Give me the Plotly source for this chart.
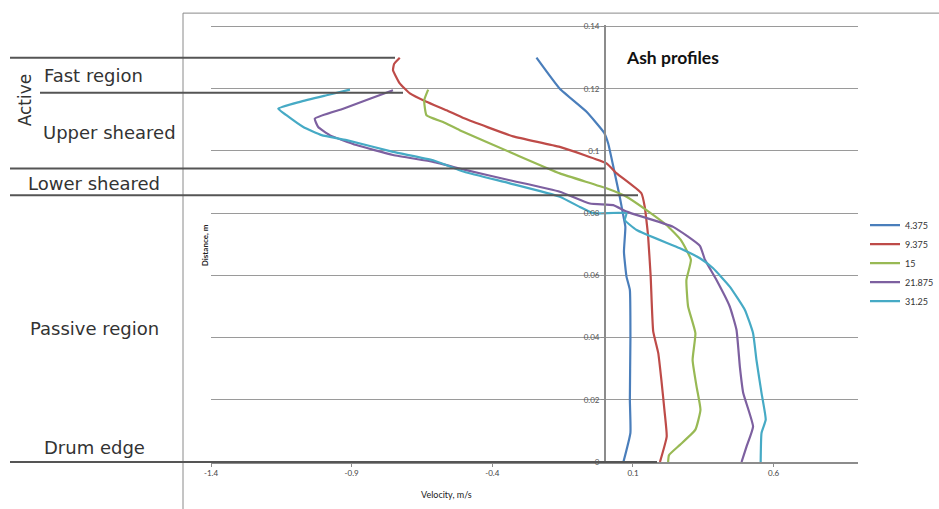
import plotly.graph_objects as go

# Velocity (m/s) and distance (m) profiles for each rotation speed
speeds = ["4.375", "9.375", "15", "21.875", "31.25"]

vel_4375 = [-0.243, -0.160, -0.065, -0.002, 0.012, 0.033, 0.053, 0.064, 0.073, 0.068,
            0.077, 0.089, 0.091, 0.089, 0.091, 0.066]
dist_4375 = [0.130, 0.120, 0.1126, 0.1058, 0.1024, 0.0938, 0.0853, 0.0800, 0.0756, 0.0676,
             0.0596, 0.0553, 0.0399, 0.0200, 0.0094, 0.0]

vel_9375 = [-0.729, -0.749, -0.753, -0.729, -0.693, -0.634, -0.563, -0.500, -0.326, -0.160,
            0.006, 0.042, 0.130, 0.142, 0.150, 0.154, 0.163, 0.172, 0.190, 0.201, 0.213,
            0.220, 0.196]
dist_9375 = [0.130, 0.128, 0.126, 0.1217, 0.1185, 0.1158, 0.1131, 0.1105, 0.1047, 0.1013,
             0.096, 0.0928, 0.0864, 0.0820, 0.0760, 0.0724, 0.0596, 0.0420, 0.035, 0.0264,
             0.0157, 0.0082, 0.0]

vel_15 = [-0.628, -0.642, -0.634, -0.575, -0.516, -0.326, -0.160, 0.006, 0.077, 0.148,
          0.219, 0.270, 0.306, 0.290, 0.296, 0.322, 0.312, 0.326, 0.340, 0.322, 0.267,
          0.228, 0.225]
dist_15 = [0.1197, 0.1163, 0.1115, 0.1093, 0.1067, 0.0992, 0.0928, 0.088, 0.0853, 0.081,
           0.0762, 0.0714, 0.065, 0.0585, 0.050, 0.0414, 0.0328, 0.0243, 0.0168, 0.0104,
           0.0055, 0.0022, 0.0]

vel_21875 = [-0.753, -0.835, -0.930, -1.031, -1.019, -0.978, -0.883, -0.753, -0.610, -0.500,
             -0.338, -0.160, -0.053, 0.030, 0.077, 0.243, 0.338, 0.356, 0.397, 0.444, 0.468,
             0.480, 0.492, 0.527, 0.504, 0.486]
dist_21875 = [0.1195, 0.1168, 0.1136, 0.1104, 0.1077, 0.1051, 0.1019, 0.0987, 0.0965, 0.0940,
              0.0906, 0.0869, 0.0831, 0.0826, 0.0805, 0.0756, 0.0695, 0.065, 0.0585, 0.050,
              0.0425, 0.0307, 0.0222, 0.0114, 0.005, 0.0]

vel_3125 = [-0.906, -0.989, -1.084, -1.161, -1.132, -1.072, -1.007, -0.918, -0.753, -0.610,
            -0.500, -0.338, -0.160, -0.089, -0.042, 0.077, 0.071, 0.113, 0.267, 0.338, 0.385,
            0.444, 0.498, 0.527, 0.539, 0.557, 0.572, 0.557, 0.554]
dist_3125 = [0.1197, 0.1179, 0.1158, 0.1136, 0.1115, 0.1077, 0.1051, 0.1035, 0.0997, 0.0970,
             0.0933, 0.0896, 0.0853, 0.0820, 0.0800, 0.0800, 0.0778, 0.0746, 0.0687, 0.0655,
             0.0623, 0.0564, 0.0489, 0.0414, 0.0328, 0.0222, 0.0136, 0.0093, 0.0]

# Region boundaries (distance, m)
region_bounds = [0.130, 0.1187, 0.0944, 0.0858, 0.0]

x_ticks = [-1.4, -0.9, -0.4, 0.1, 0.6]
y_ticks = [0, 0.02, 0.04, 0.06, 0.08, 0.1, 0.12, 0.14]
y_tick_text = ["0", "0.02", "0.04", "0.06", "0.08", "0.1", "0.12", "0.14"]

X_RANGE = [-1.4, 0.9]
# a hair of headroom so the 0.14 gridline is kept at the top edge
Y_RANGE = [0, 0.1405]

colors = ["#4A7EBB", "#BE4B48", "#98B954", "#7D60A0", "#46AAC5"]
series = [(vel_4375, dist_4375), (vel_9375, dist_9375), (vel_15, dist_15),
          (vel_21875, dist_21875), (vel_3125, dist_3125)]

W, H = 939, 509
M_L, M_R, M_T, M_B = 211, 81, 24.6, 47
PW, PH = W - M_L - M_R, H - M_T - M_B


def px_x(px):
    return (px - M_L) / PW


def px_y(py):
    return (H - M_B - py) / PH


def dist_to_paper(d):
    return (d - Y_RANGE[0]) / (Y_RANGE[1] - Y_RANGE[0])


fig = go.Figure()
for name, (v, d), c in zip(speeds, series, colors):
    fig.add_trace(go.Scatter(
        x=v, y=d, name=name, mode="lines",
        line=dict(color=c, width=2.2, shape="spline", smoothing=0.4),
    ))

shapes = []
# Chart area frame (left and top edges)
shapes.append(dict(type="line", xref="paper", yref="paper",
                   x0=px_x(183), x1=px_x(183), y0=px_y(12.7), y1=px_y(520),
                   line=dict(color="#8a8a8a", width=1)))
shapes.append(dict(type="line", xref="paper", yref="paper",
                   x0=px_x(183), x1=px_x(945), y0=px_y(12.7), y1=px_y(12.7),
                   line=dict(color="#8a8a8a", width=1)))

# Region boundary lines (left start px, right end px)
bound_ext = [(10, 395), (40, 403), (10, 605), (10, 638), (10, 657)]
for b, (x0, x1) in zip(region_bounds, bound_ext):
    yp = dist_to_paper(b)
    shapes.append(dict(type="line", xref="paper", yref="paper", layer="above",
                       x0=px_x(x0), x1=px_x(x1), y0=yp, y1=yp,
                       line=dict(color="#555555", width=2)))

annotations = []
label_font = dict(family="DejaVu Sans", size=18, color="#333333")
for text, cx, cy in [("Fast region", 93, 75), ("Upper sheared", 109, 132),
                     ("Lower sheared", 94, 183), ("Passive region", 94, 328),
                     ("Drum edge", 94, 447)]:
    annotations.append(dict(text=text, x=px_x(cx), y=px_y(cy), xref="paper", yref="paper",
                            showarrow=False, font=label_font,
                            xanchor="center", yanchor="middle"))
annotations.append(dict(text="Active", x=px_x(25), y=px_y(100), xref="paper", yref="paper",
                        showarrow=False, font=dict(family="DejaVu Sans", size=17, color="#333333"),
                        textangle=-90, xanchor="center", yanchor="middle"))
annotations.append(dict(text="<b>Ash profiles</b>", x=px_x(624), y=px_y(57),
                        xref="paper", yref="paper", showarrow=False,
                        font=dict(family="Lato", size=17.5, color="#111111"),
                        xanchor="left", yanchor="middle"))
annotations.append(dict(text="<b>Distance, m</b>", x=px_x(205), y=px_y(245),
                        xref="paper", yref="paper", showarrow=False, textangle=-90,
                        font=dict(family="Lato", size=8, color="#222222"),
                        xanchor="center", yanchor="middle"))
annotations.append(dict(text="Velocity, m/s", x=px_x(446), y=px_y(495),
                        xref="paper", yref="paper", showarrow=False,
                        font=dict(family="Lato", size=9, color="#222222"),
                        xanchor="center", yanchor="middle"))

axis_pos = (0 - X_RANGE[0]) / (X_RANGE[1] - X_RANGE[0])

fig.update_layout(
    width=W, height=H,
    margin=dict(l=M_L, r=M_R, t=M_T, b=M_B, autoexpand=False),
    paper_bgcolor="white", plot_bgcolor="white",
    xaxis=dict(range=X_RANGE, domain=[0, 1], tickvals=x_ticks,
               ticktext=[str(t) for t in x_ticks],
               showgrid=False, zeroline=False, showline=True,
               linecolor="#8c8c8c", linewidth=1.5, ticks="outside", ticklen=3,
               tickcolor="#8c8c8c", tickfont=dict(family="Lato", size=8, color="#444444")),
    yaxis=dict(range=Y_RANGE, tickvals=y_ticks, ticktext=y_tick_text,
               anchor="free", position=axis_pos,
               showgrid=True, gridcolor="#9a9a9a", gridwidth=1, zeroline=False,
               showline=True, linecolor="#8c8c8c", linewidth=1.5,
               ticks="outside", ticklen=3, tickcolor="#8c8c8c",
               tickfont=dict(family="Lato", size=8, color="#555555")),
    legend=dict(x=px_x(865), xanchor="left", y=px_y(263), yanchor="middle",
                font=dict(family="Lato", size=9, color="#333333"),
                bgcolor="rgba(0,0,0,0)", tracegroupgap=0),
    shapes=shapes,
    annotations=annotations,
)

fig.write_html("out.html")
